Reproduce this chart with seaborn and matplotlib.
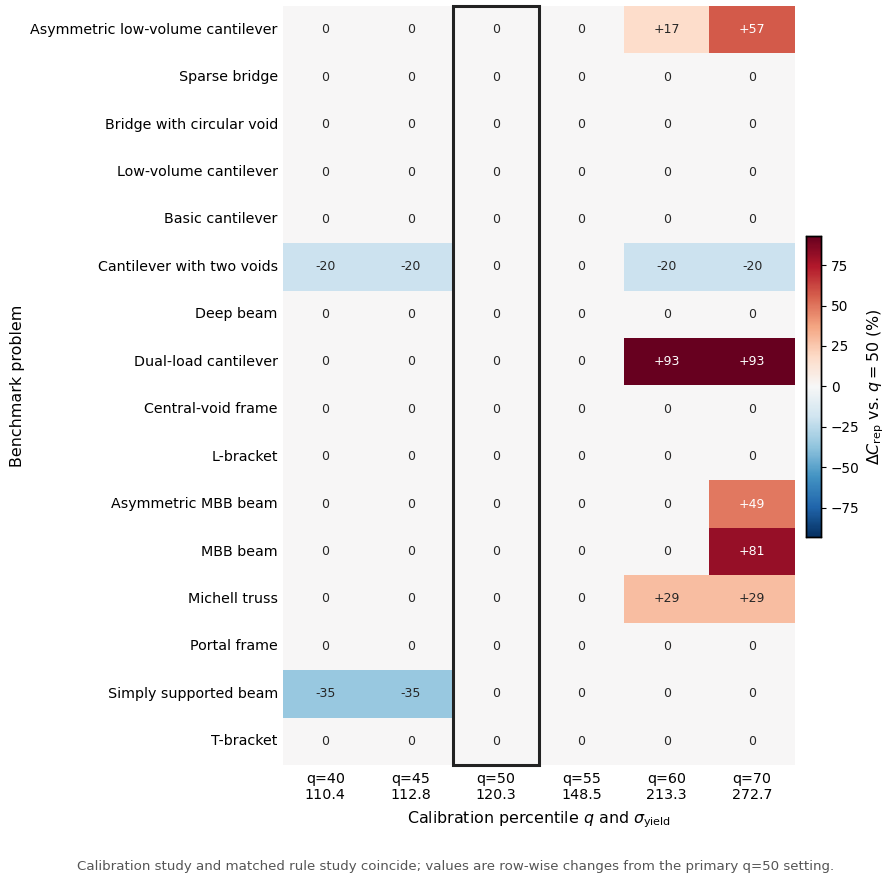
import numpy as np
import pandas as pd
import matplotlib
matplotlib.use("Agg")
import matplotlib.pyplot as plt
import seaborn as sns
from matplotlib.patches import Rectangle

problems = [
    "Asymmetric low-volume cantilever", "Sparse bridge", "Bridge with circular void",
    "Low-volume cantilever", "Basic cantilever", "Cantilever with two voids", "Deep beam",
    "Dual-load cantilever", "Central-void frame", "L-bracket", "Asymmetric MBB beam",
    "MBB beam", "Michell truss", "Portal frame", "Simply supported beam", "T-bracket",
]
q_labels = ["q=40", "q=45", "q=50", "q=55", "q=60", "q=70"]
sigma_yield = ["110.4", "112.8", "120.3", "148.5", "213.3", "272.7"]

q40 = [0, 0, 0, 0, 0, -20, 0, 0, 0, 0, 0, 0, 0, 0, -35, 0]
q45 = [0, 0, 0, 0, 0, -20, 0, 0, 0, 0, 0, 0, 0, 0, -35, 0]
q50 = [0] * 16
q55 = [0] * 16
q60 = [17, 0, 0, 0, 0, -20, 0, 93, 0, 0, 0, 0, 29, 0, 0, 0]
q70 = [57, 0, 0, 0, 0, -20, 0, 93, 0, 0, 49, 81, 29, 0, 0, 0]

cols = [f"{a}\n{b}" for a, b in zip(q_labels, sigma_yield)]
df = pd.DataFrame(np.array([q40, q45, q50, q55, q60, q70]).T, index=problems, columns=cols)

def fmt(v):
    if v > 0:
        return f"+{v:.0f}"
    if v < 0:
        return f"-{abs(v):.0f}"
    return "0"

annot = df.map(fmt).values
vmax = np.abs(df.values).max()

sns.set_style("white")
plt.rcParams['font.family'] = ['DejaVu Sans']
plt.rcParams.update({"text.color": "black", "axes.labelcolor": "black",
                     "xtick.color": "black", "ytick.color": "black"})

fig = plt.figure(figsize=(8.89, 8.81), dpi=100)
ax = fig.add_axes([0.318, 0.1317, 0.576, 0.8615])
cax = fig.add_axes([0.9066, 0.3905, 0.0169, 0.3417])

sns.heatmap(df, ax=ax, cbar_ax=cax, cmap="RdBu_r", vmin=-vmax, vmax=vmax, center=0,
            annot=annot, fmt="", annot_kws={"size": 9},
            cbar_kws={"label": r"$\Delta C_{\mathrm{rep}}$ vs. $q = 50$ (%)"})

ax.add_patch(Rectangle((2, 0), 1, len(problems), fill=False, edgecolor="#222222",
                       linewidth=2.2, clip_on=False, zorder=5))
ax.tick_params(axis="both", length=0, labelsize=10.3)
ax.tick_params(axis="x", pad=5)
ax.set_yticklabels(ax.get_yticklabels(), rotation=0)
ax.set_xticklabels(ax.get_xticklabels(), rotation=0)
ax.set_ylabel("Benchmark problem", fontsize=11.4, labelpad=4)
ax.set_xlabel(r"Calibration percentile $q$ and $\sigma_{\mathrm{yield}}$", fontsize=11.4, labelpad=5)

cax.tick_params(labelsize=9.8, length=3.5, color="black")
cax.yaxis.label.set_size(11.4)
for s in cax.spines.values():
    s.set_visible(True)
    s.set_color("black")
    s.set_linewidth(1)

fig.text(0.513, 0.017, "Calibration study and matched rule study coincide; values are row-wise changes from the primary q=50 setting.",
         ha="center", va="center", fontsize=9.6, color="#555555")

fig.savefig("out.png", dpi=100)
